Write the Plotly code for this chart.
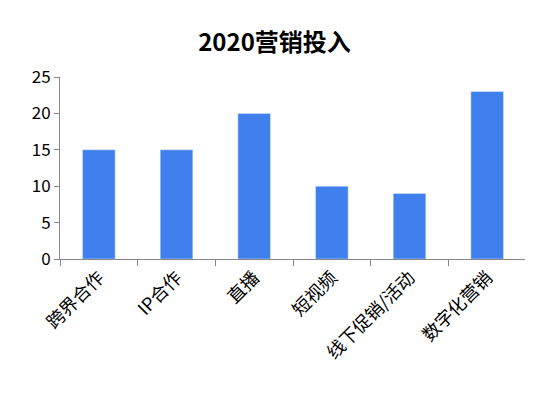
import plotly.graph_objects as go

categories = ["跨界合作", "IP合作", "直播", "短视频", "线下促销/活动", "数字化营销"]
values = [15, 15, 20, 10, 9, 23]
y_ticks = [0, 5, 10, 15, 20, 25]

fig = go.Figure()
fig.add_trace(go.Bar(
    x=categories,
    y=values,
    marker_color="#3f80ee",
    width=0.42,
))

fig.update_layout(
    title=dict(text="<b>2020营销投入</b>", x=0.5, y=0.935, xanchor="center",
               font=dict(size=24, color="black", family="Noto Sans CJK SC")),
    width=533, height=401,
    margin=dict(l=52, r=15, t=69, b=150),
    plot_bgcolor="white", paper_bgcolor="white",
    font=dict(family="Noto Sans CJK SC", size=17, color="black"),
    showlegend=False,
)
fig.update_xaxes(
    showline=True, linecolor="#888", tickangle=-45,
    ticks="outside", ticklen=6, tickcolor="#888",
    tickson="boundaries", tickfont=dict(size=18),
)
fig.update_yaxes(
    range=[0, 25], tickvals=y_ticks, showgrid=False,
    showline=True, linecolor="#888", ticks="outside", ticklen=5, tickcolor="#888",
    zeroline=False,
)
fig.write_html("out.html")
